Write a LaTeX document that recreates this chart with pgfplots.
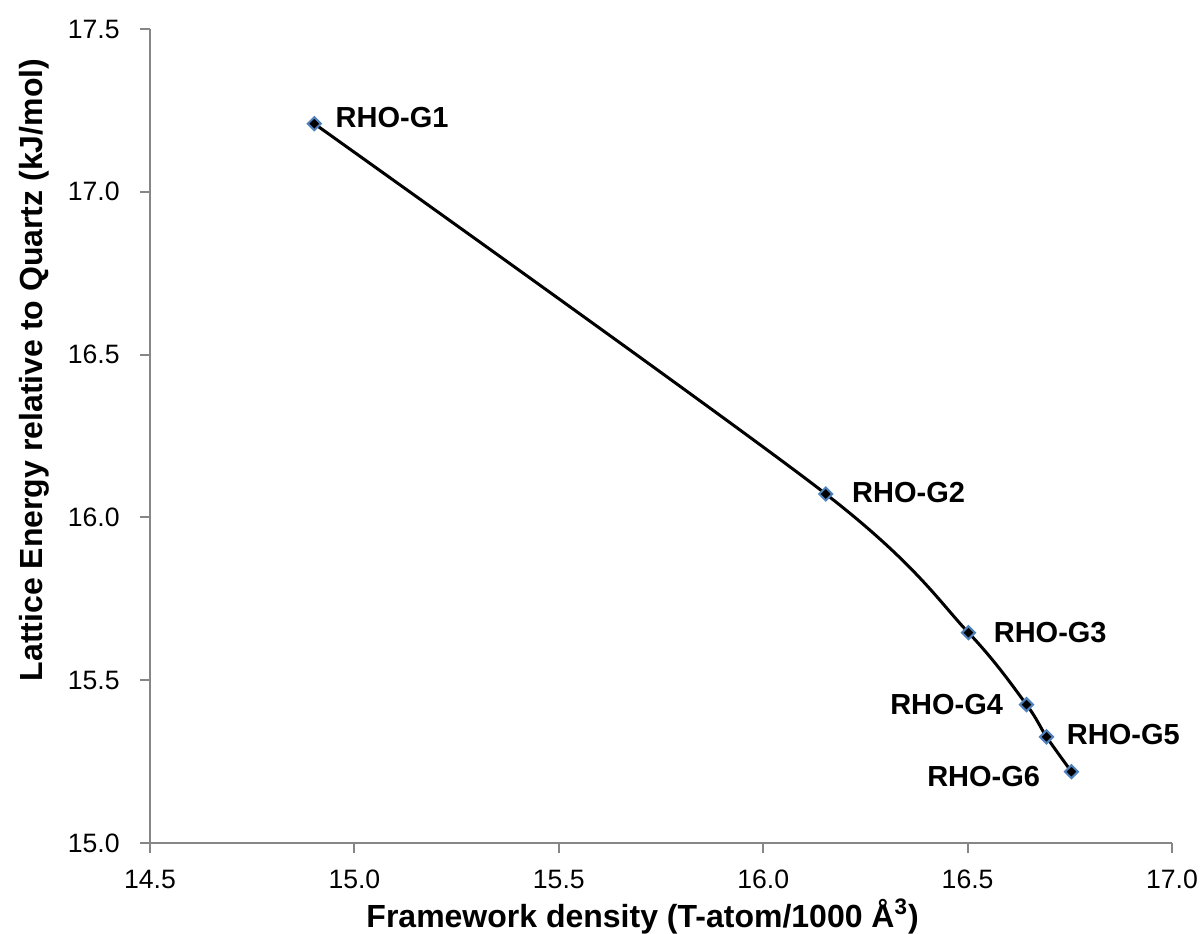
\documentclass[border=0pt]{standalone}
\usepackage{pgfplots}
\pgfplotsset{compat=1.18}
\usepackage{fontspec}
\setmainfont{Liberation Sans}
\definecolor{axgray}{RGB}{134,134,134}
\definecolor{mkblue}{RGB}{79,129,189}
\begin{document}
\begin{tikzpicture}
\begin{axis}[
  name=ax,
  scale only axis,
  width=511pt, height=407pt,
  xmin=14.5, xmax=17.0, ymin=15.0, ymax=17.5,
  xtick distance=0.5, ytick distance=0.5,
  axis lines*=left,
  axis line style={axgray, line width=1pt, -},
  tick align=outside, major tick length=5pt,
  tick style={axgray, line width=1pt},
  ticklabel style={font=\fontsize{13.3}{15}\selectfont, inner sep=1pt},
  /pgf/number format/assume math mode=true,
  /pgf/number format/.cd, fixed, fixed zerofill, precision=1, /pgfplots/.cd,
  xticklabel style={yshift=-7.3pt},
  yticklabel style={xshift=-9pt},
  xlabel={\bfseries Framework density (T-atom/1000 Å\textsuperscript{3})},
  ylabel={\bfseries Lattice Energy relative to Quartz (kJ/mol)},
  label style={font=\fontsize{16}{18}\selectfont, inner sep=0pt},
  xlabel style={at={(axis description cs:0.482,-0.1032)}, anchor=base},
  ylabel style={at={(axis description cs:-0.113,0.581)}, anchor=center, rotate=0},
  clip=false,
]
  \addplot[line width=1.5pt, black, smooth, tension=0.5,
    mark=square*, mark size=2.3pt,
    mark options={rotate=45, fill=black, draw=mkblue, line width=1pt}]
    coordinates {(14.902,17.209)(16.153,16.072)(16.502,15.646)(16.644,15.425)(16.693,15.326)(16.754,15.219)};
  \begin{scope}[every node/.style={font=\fontsize{14.5}{16}\selectfont\bfseries, inner sep=0pt}]
  \node[anchor=base west, xshift=10.5pt, yshift=-2pt] at (axis cs:14.902,17.209) {RHO-G1};
  \node[anchor=base west, xshift=13pt, yshift=-4.5pt] at (axis cs:16.153,16.072) {RHO-G2};
  \node[anchor=base west, xshift=12.5pt, yshift=-5pt] at (axis cs:16.502,15.646) {RHO-G3};
  \node[anchor=base east, xshift=-11.5pt, yshift=-5pt] at (axis cs:16.644,15.425) {RHO-G4};
  \node[anchor=base west, xshift=10pt, yshift=-4pt] at (axis cs:16.693,15.326) {RHO-G5};
  \node[anchor=base east, xshift=-15.5pt, yshift=-7.5pt] at (axis cs:16.754,15.219) {RHO-G6};
  \end{scope}
\end{axis}
\path ([shift={(-75pt,-45.5pt)}]ax.south west) rectangle ([shift={(14.5pt,14.5pt)}]ax.north east);
\end{tikzpicture}
\end{document}
